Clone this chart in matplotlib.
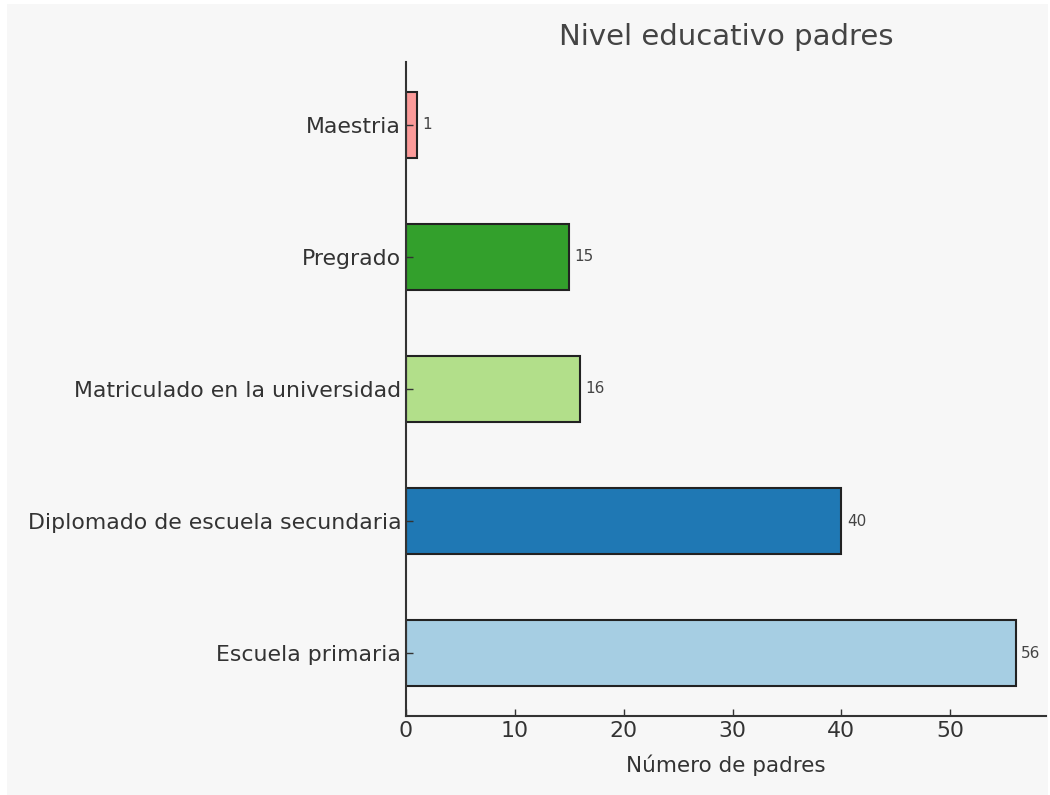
import matplotlib
matplotlib.use("Agg")
import matplotlib.pyplot as plt
from matplotlib.patches import Rectangle

# data
niveles = ["Escuela primaria", "Diplomado de escuela secundaria",
           "Matriculado en la universidad", "Pregrado", "Maestria"]
padres = [56, 40, 16, 15, 1]
colores = ["#a6cee3", "#1f78b4", "#b2df8a", "#33a02c", "#fb9a99"]

texto = "#333333"

fig = plt.figure(figsize=(10.5, 7.95), dpi=100, facecolor="white")
# light grey canvas inside a thin white frame
fig.patches.append(Rectangle((7 / 1050, 0), 1041 / 1050, 791 / 795,
                             transform=fig.transFigure, facecolor="#f7f7f7",
                             edgecolor="none", zorder=-10))
ax = fig.add_axes([0.3867, 0.0994, 0.6095, 0.8226])
ax.set_facecolor("#f7f7f7")

bars = ax.barh(niveles, padres, height=0.5, color=colores,
               edgecolor="#222222", linewidth=1.5)

for b, v in zip(bars, padres):
    ax.text(b.get_width() + 0.5, b.get_y() + b.get_height() / 2, str(v),
            va="center", ha="left", fontsize=11, color="#444444")

ax.set_title("Nivel educativo padres", fontsize=21, color="#444444", pad=12)
ax.set_xlabel("Número de padres", fontsize=15.5, color=texto, labelpad=10)

for s in ["top", "right"]:
    ax.spines[s].set_visible(False)
for s in ["left", "bottom"]:
    ax.spines[s].set_color("#333333")
    ax.spines[s].set_linewidth(1.5)

ax.tick_params(axis="both", direction="in", colors="#333333",
               labelsize=15.8, labelcolor=texto, length=5, width=1)
ax.set_xticks([0, 10, 20, 30, 40, 50])

fig.savefig("out.png", dpi=100, facecolor=fig.get_facecolor())
